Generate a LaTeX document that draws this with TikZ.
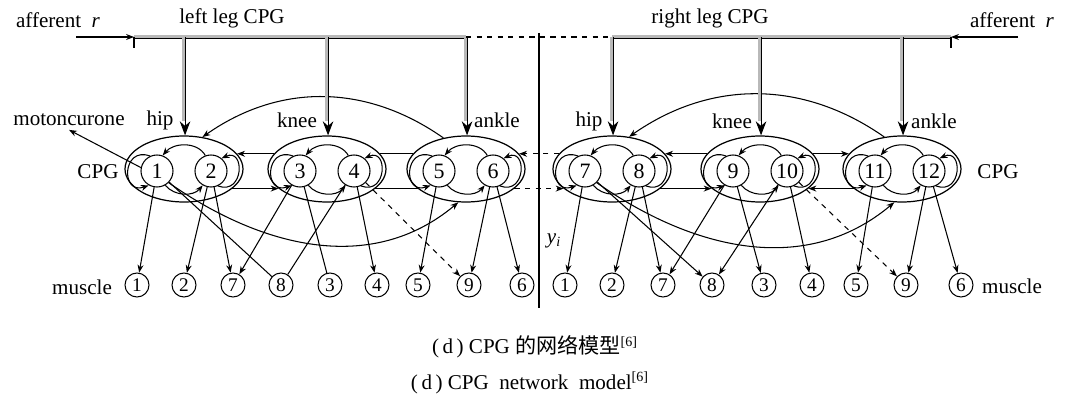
\documentclass[tikz,border=0pt]{standalone}
\usepackage{fontspec}
\setmainfont{Liberation Serif}
\newfontfamily\cjk{Noto Sans CJK SC}
\usetikzlibrary{arrows.meta,shapes.geometric,calc}
\tikzset{
  osc/.style={draw, ellipse, line width=0.7pt, minimum width=2.36cm, minimum height=1.32cm, inner sep=0pt},
  neuron/.style={draw, circle, line width=0.6pt, minimum size=0.64cm, inner sep=0pt, font=\fontsize{12.5}{13}\selectfont},
  muscle/.style={draw, circle, line width=0.6pt, minimum size=0.48cm, inner sep=0pt, font=\fontsize{11}{12}\selectfont},
  lbl/.style={font=\fontsize{12}{14}\selectfont, inner sep=0pt},
  link/.style={line width=0.6pt, -{Stealth[length=4.5pt,width=3.4pt]}},
  plain/.style={line width=0.6pt},
  feed/.style={draw=gray!55, line width=2pt},
  drive/.style={line width=0.6pt, -{Stealth[length=8pt,width=6pt]}},
  capt/.style={font=\fontsize{12}{14}\selectfont}
}
\begin{document}
\begin{tikzpicture}[x=0.02cm, y=0.02cm]
    \useasboundingbox (0,0) rectangle (1073,-402);
    \foreach \c/\x/\a/\b in {L1/184/1/2,L2/327/3/4,L3/466/5/6,R1/612/7/8,R2/760/9/10,R3/902/11/12}{
        \node[osc] (\c) at (\x,-169) {};
        \node[neuron] (n\a) at (\x-27,-171) {\a};
        \node[neuron] (n\b) at (\x+27,-171) {\b};
        \draw[link] (n\b.110) to[out=120,in=50] (n\a.70);
        \draw[link] (n\a.-60) to[out=-50,in=-130] (n\b.-120);
        \draw[link] (n\a.115) .. controls +(160:30) and +(200:30) .. (n\a.240);
        \draw[link] (n\b.-65) .. controls +(-20:28) and +(25:26) .. (n\b.50);
    }
    \draw[link] (L2.164) -- (L1.16);
    \draw[link] (L1.-22) -- (L2.202);
    \draw[plain] (L2.16) -- (L3.164);
    \draw[plain] (L2.-22) -- (L3.202);
    \draw[link, dashed] (R1.164) -- (L3.16);
    \draw[link, dashed] (L3.-22) -- (R1.202);
    \draw[link] (R2.164) -- (R1.16);
    \draw[link] (R1.-22) -- (R2.202);
    \draw[link] (R2.16) -- (R3.164);
    \draw[link] (R3.202) -- (R2.-22);
    \draw[link] (L3.126) to[out=145,in=35] (L1.60);
    \draw[link] (R3.119) to[out=145,in=35] (R1.62);
    \draw[link] (n1.-45) to[out=-35,in=-140] (L3.257);
    \draw[link] (n7.-45) to[out=-35,in=-140] (R3.257);
    \foreach \k/\x in {1/137,2/184,7/233,8/281,3/330,4/377,5/418,9/469,6/522} \node[muscle] (lm\k) at (\x,-285) {\k};
    \foreach \k/\x in {1/565,2/612,7/663,8/712,3/764,4/812,5/856,9/906,6/961} \node[muscle] (rm\k) at (\x,-285) {\k};
    \foreach \s/\t in {n1/lm1,n2/lm2,n2/lm7,n3/lm7,n4/lm4,n5/lm5,n6/lm9,n6/lm6,n7/rm1,n7/rm8,n8/rm2,n8/rm7,n9/rm7,n9/rm3,n10/rm8,n10/rm4,n11/rm5,n12/rm9,n12/rm6} \draw[link] (\s) -- (\t);
    \foreach \s/\t in {n1/lm8,n3/lm3,n4/lm8} \draw[plain] (\s) -- (\t);
    \draw[link, dashed] (n4) -- (lm9);
    \draw[link, dashed] (n10) -- (rm9);
    \coordinate (lbarL) at (134,-37);
    \coordinate (lbarR) at (L3.north |- lbarL);
    \coordinate (rbarL) at (R1.north |- lbarL);
    \coordinate (rbarR) at (951,-37);
    \draw[feed] (lbarL) -- (lbarR);
    \draw[feed] (rbarL) -- (rbarR);
    \draw[plain] ([yshift=-0.7pt]lbarL) -- ([yshift=-0.7pt]lbarR);
    \draw[plain] ([yshift=-0.7pt]rbarL) -- ([yshift=-0.7pt]rbarR);
    \foreach \c in {L1,L2,L3,R1,R2,R3}{
        \draw[feed] (\c.north |- lbarL) -- ([yshift=8pt]\c.north);
        \draw[drive] ([xshift=0.6pt]\c.north |- lbarL) -- ([xshift=0.6pt]\c.north);
    }
    \draw[plain] (lbarL) -- ++(0,-11);
    \draw[plain] (rbarR) -- ++(0,-11);
    \draw[plain, dashed] (lbarR) -- (rbarL);
    \coordinate (dtop) at (539,-33);
    \coordinate (dbot) at (539,-308);
    \draw[plain] (dtop) -- (dbot);
    \node[lbl] (affL) at (58,-20) {afferent\ \ \textit{r}};
    \node[lbl] (affR) at (1012,-20) {afferent\ \ \textit{r}};
    \coordinate (affLs) at (76,-37);
    \coordinate (affRs) at (1018,-37);
    \draw[link] (affLs) -- (lbarL);
    \draw[link] (affRs) -- (rbarR);
    \node[lbl] (ltitle) at (232,-18) {left leg CPG};
    \node[lbl] (rtitle) at (710,-18) {right leg CPG};
    \node[lbl] (hipL) at (160,-120) {hip};
    \node[lbl] (kneeL) at (297,-120) {knee};
    \node[lbl] (ankleL) at (497,-120) {ankle};
    \node[lbl] (hipR) at (589,-121) {hip};
    \node[lbl] (kneeR) at (732,-121) {knee};
    \node[lbl] (ankleR) at (934,-121) {ankle};
    \node[lbl] (moto) at (69,-120) {motoncurone};
    \draw[link] (n1.168) -- ([yshift=-2pt]moto.south);
    \node[lbl] (cpgL) at (98,-172) {CPG};
    \node[lbl] (cpgR) at (998,-172) {CPG};
    \node[lbl] (musL) at (82,-287) {muscle};
    \node[lbl] (musR) at (1012,-286) {muscle};
    \node[lbl] (yi) at (554,-241) {\textit{y}\textsubscript{\textit{i}}};
    \node[capt] (cap1) at (535,-347) {(\,d\,)\ CPG {\cjk 的网络模型}\textsuperscript{[6]}};
    \node[capt] (cap2) at (530,-383) {(\,d\,)\ CPG\hspace{0.5em}network\hspace{0.5em}model\textsuperscript{[6]}};
\end{tikzpicture}
\end{document}
